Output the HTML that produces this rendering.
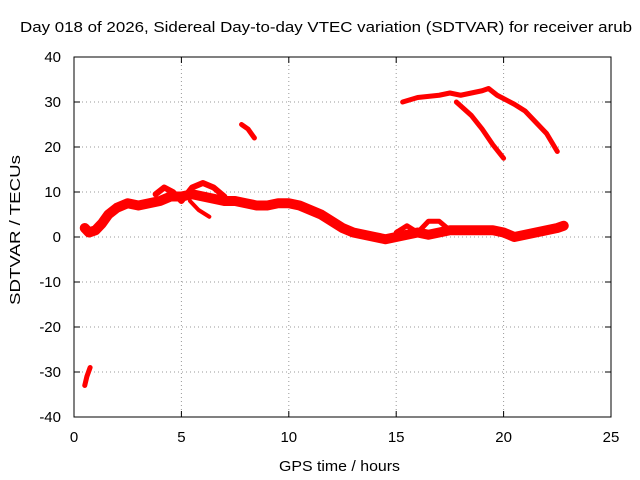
<!DOCTYPE html>
<html><head><meta charset="utf-8"><style>
body{margin:0;background:#fff}
svg{display:block;font-family:"Liberation Sans",sans-serif}
</style></head><body>
<svg id="chart" width="640" height="480">
<text x="20" y="32" font-size="15" textLength="612" lengthAdjust="spacingAndGlyphs">Day 018 of 2026, Sidereal Day-to-day VTEC variation (SDTVAR) for receiver arub</text>
<text x="279" y="471" font-size="15" textLength="121" lengthAdjust="spacingAndGlyphs">GPS time / hours</text>
<text transform="translate(20,305) rotate(-90)" font-size="15" textLength="150" lengthAdjust="spacingAndGlyphs">SDTVAR / TECUs</text>
<g id="grid"></g><g id="ticks"></g><g id="marks"></g>
<rect x="74" y="57" width="537" height="360" fill="none" stroke="#000"/>
</svg>
<script>
const xTicks=[0,5,10,15,20,25];
const yTicks=[-40,-30,-20,-10,0,10,20,30,40];
const mainBand=[[0.5,2],[0.7,1],[1,1.5],[1.3,3],[1.6,5],[2,6.5],[2.5,7.5],[3,7],[3.5,7.5],[4,8],[4.5,9],[5,9],[5.5,9.5],[6,9],[6.5,8.5],[7,8],[7.5,8],[8,7.5],[8.5,7],[9,7],[9.5,7.5],[10,7.5],[10.5,7],[11,6],[11.5,5],[12,3.5],[12.5,2],[13,1],[13.5,0.5],[14,0],[14.5,-0.5],[15,0],[15.5,0.5],[16,1],[16.5,0.5],[17,1],[17.5,1.5],[18,1.5],[18.5,1.5],[19,1.5],[19.5,1.5],[20,1],[20.5,0],[21,0.5],[21.5,1],[22,1.5],[22.5,2],[22.8,2.5]];
const spikeBand=[[3.8,9.5],[4.2,11],[4.6,10],[5,8],[5.5,11],[6,12],[6.5,11],[7,9]];
const dropBand=[[5.4,8],[5.8,6],[6.3,4.5]];
const bumpBand=[[15,1],[15.5,2.5],[16,1],[16.5,3.5],[17,3.5],[17.5,1.5]];
const lowSeg=[[0.5,-33],[0.6,-31],[0.75,-29]];
const midSeg=[[7.8,25],[8.1,24],[8.4,22]];
const upperArc=[[15.3,30],[16,31],[17,31.5],[17.5,32],[18,31.5],[18.5,32],[19,32.5],[19.3,33],[19.7,31.5],[20.5,29.5],[21,28],[21.5,25.5],[22,23],[22.5,19]];
const upperDrop=[[17.8,30],[18.5,27],[19,24],[19.5,20.5],[20,17.5]];
const sx=t=>74+t*537/25, sy=v=>237-v*4.5;
const NS="http://www.w3.org/2000/svg";
function mk(tag,attrs,parent){const e=document.createElementNS(NS,tag);for(const k in attrs)e.setAttribute(k,attrs[k]);parent.appendChild(e);return e;}
const grid=document.getElementById('grid'),ticks=document.getElementById('ticks'),marks=document.getElementById('marks');
xTicks.forEach(t=>{
 if(t>0&&t<25){const g=mk('line',{x1:sx(t),x2:sx(t),y1:57,y2:417,stroke:'#999','stroke-dasharray':'1,3'},grid);
 
 }
 mk('line',{x1:sx(t),x2:sx(t),y1:417,y2:411,stroke:'#000'},ticks);
 mk('line',{x1:sx(t),x2:sx(t),y1:57,y2:63,stroke:'#000'},ticks);
 const l=mk('text',{x:sx(t),y:442,'font-size':15,'text-anchor':'middle'},ticks);l.textContent=t;
 
 
});
yTicks.forEach(v=>{
 if(v>-40&&v<40){const g=mk('line',{x1:74,x2:611,y1:sy(v),y2:sy(v),stroke:'#999','stroke-dasharray':'1,3'},grid);
 
 }
 mk('line',{x1:74,x2:80,y1:sy(v),y2:sy(v),stroke:'#000'},ticks);
 mk('line',{x1:605,x2:611,y1:sy(v),y2:sy(v),stroke:'#000'},ticks);
 const l=mk('text',{x:61,y:sy(v)+5,'font-size':15,'text-anchor':'end'},ticks);l.textContent=v;
 
 
});
function trace(data,w,name){
 const p=mk('polyline',{points:data.map(d=>sx(d[0])+','+sy(d[1])).join(' '),fill:'none',stroke:'#f00','stroke-width':w,'stroke-linejoin':'round','stroke-linecap':'round'},marks);
 
 
}
trace(mainBand,10,'main-band');
trace(spikeBand,6,'spike-band');
trace(dropBand,4,'drop-band');
trace(bumpBand,5,'bump-band');
trace(lowSeg,5,'low-segment');
trace(midSeg,5,'mid-segment');
trace(upperArc,5,'upper-arc');
trace(upperDrop,5,'upper-drop');
</script>
</body></html>
